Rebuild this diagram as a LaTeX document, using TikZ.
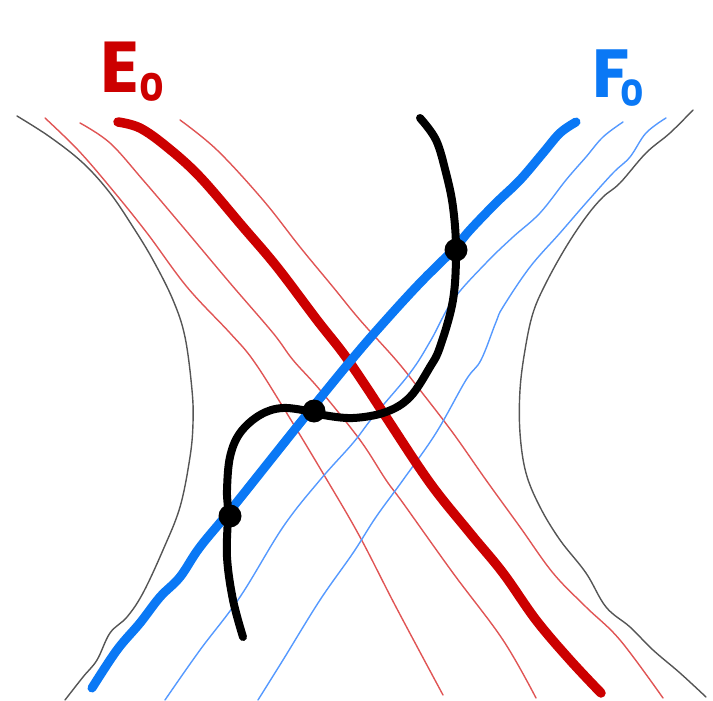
\documentclass[tikz,border=0pt]{standalone}
\usepackage{fontspec}
\newfontfamily\labfont{Poppins}
\definecolor{ered}{HTML}{CC0000}
\definecolor{fblue}{HTML}{0A78F5}
\definecolor{tred}{HTML}{E05555}
\definecolor{tblue}{HTML}{5599FF}
\definecolor{tgray}{HTML}{555555}
\tikzset{
  thinred/.style={draw=tred, line width=1.4pt, line cap=round},
  thinblue/.style={draw=tblue, line width=1.4pt, line cap=round},
  thingray/.style={draw=tgray, line width=1.4pt, line cap=round},
  thickred/.style={draw=ered, line width=9.5pt, line cap=round, line join=round},
  thickblue/.style={draw=fblue, line width=9pt, line cap=round, line join=round},
  curveblack/.style={draw=black, line width=8pt, line cap=round, line join=round},
  dot/.style={circle, fill=black, inner sep=0pt, minimum size=23pt},
  lab/.style={inner sep=0pt, font=\labfont\bfseries}
}
\begin{document}
\begin{tikzpicture}[x=1pt,y=-1pt]
\useasboundingbox (0,0) rectangle (713,701);
% gray boundary curves
\draw[thingray] plot[smooth, tension=0.6] coordinates {(17,116) (50,137) (83,163) (110,193) (133,227) (153,260) (173,300) (185,337) (192,390) (193,423) (190,457) (180,507) (163,550) (143,593) (127,617) (110,633) (97,660) (83,677) (65,700)};
\draw[thingray] plot[smooth, tension=0.6] coordinates {(693,110) (670,133) (646,153) (620,183) (603,197) (586,217) (566,247) (546,283) (533,313) (525,350) (520,390) (520,433) (526,473) (540,507) (560,540) (586,573) (606,607) (630,627) (653,650) (680,673) (706,697)};
% thin red
\draw[thinred] plot[smooth, tension=0.6] coordinates {(45,118) (78,150) (110,187) (147,233) (187,287) (230,333) (253,360) (283,407) (327,480) (360,537) (396,607) (443,695)};
\draw[thinred] plot[smooth, tension=0.6] coordinates {(80,123) (110,143) (143,180) (183,227) (230,283) (273,333) (293,360) (320,390) (360,440) (386,480) (403,503) (453,573) (503,640) (536,698)};
\draw[thinred] plot[smooth, tension=0.6] coordinates {(180,120) (217,150) (263,200) (300,247) (333,287) (360,320) (396,360) (420,390) (453,433) (486,480) (520,527) (553,573) (586,607) (620,640) (663,698)};
% thin blue
\draw[thinblue] plot[smooth, tension=0.6] coordinates {(623,122) (603,137) (586,157) (566,180) (540,213) (513,237) (486,263) (453,300) (431,340) (410,373) (373,417) (353,443) (320,480) (283,527) (240,597) (200,650) (165,700)};
\draw[thinblue] plot[smooth, tension=0.6] coordinates {(666,118) (646,133) (630,157) (613,173) (586,203) (560,233) (530,267) (503,307) (496,322) (481,360) (466,380) (436,433) (403,480) (376,517) (353,553) (320,600) (283,660) (258,700)};
% thick red E0
\draw[thickred] plot[smooth, tension=0.6] coordinates {(118,122) (140,128) (167,147) (200,177) (243,227) (277,267) (317,320) (343,353) (365,385) (386,417) (430,483) (470,533) (503,573) (536,620) (570,660) (601,693)};
% thick blue F0
\draw[thickblue] plot[smooth, tension=0.6] coordinates {(576,122) (560,133) (543,153) (520,180) (496,203) (470,230) (453,250) (420,283) (386,320) (353,358) (300,423) (233,507) (200,547) (180,577) (160,597) (140,623) (117,650) (92,688)};
% black curve
\draw[curveblack] plot[smooth, tension=0.6] coordinates {(420,118) (436,140) (446,173) (453,207) (456,250) (453,300) (440,347) (430,367) (410,397) (386,412) (353,418) (323,415) (313,412) (283,408) (260,415) (240,433) (230,457) (227,490) (228,513) (227,557) (233,600) (243,637)};
% dots
\node[dot] (p1) at (456,250) {};
\node[dot] (p2) at (314,411) {};
\node[dot] (p3) at (230,516) {};
% labels
\node[lab, text=ered, anchor=base west] (e0) at (100,93) {\fontsize{72}{72}\selectfont E\raisebox{-0.12em}{\fontsize{38}{38}\selectfont 0}};
\node[lab, text=fblue, anchor=base west] (f0) at (592,98) {\fontsize{68}{68}\selectfont F\kern-9pt\raisebox{-0.12em}{\fontsize{36}{36}\selectfont 0}};
\end{tikzpicture}
\end{document}
